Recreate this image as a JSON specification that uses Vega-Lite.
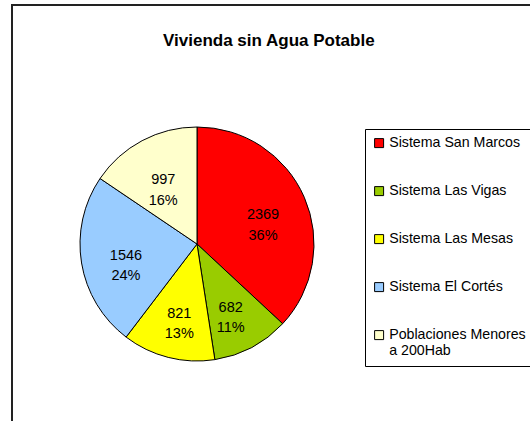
{
  "$schema": "https://vega.github.io/schema/vega-lite/v6.json",
  "autosize": {"type": "none"},
  "padding": {"left": 12, "top": 5, "right": 0, "bottom": 0},
  "width": 540,
  "height": 430,
  "background": "white",
  "view": {"stroke": "#222", "strokeWidth": 2},
  "title": {
    "text": "Vivienda sin Agua Potable",
    "font": "Liberation Sans",
    "fontSize": 17,
    "fontWeight": "bold",
    "color": "black",
    "anchor": "start",
    "baseline": "alphabetic",
    "offset": 0,
    "dx": 151,
    "dy": 58
  },
  "data": {
    "values": [
      {"orden": 1, "sistema": "Sistema San Marcos", "viviendas": 2369, "pct": "36%"},
      {"orden": 2, "sistema": "Sistema Las Vigas", "viviendas": 682, "pct": "11%"},
      {"orden": 3, "sistema": "Sistema Las Mesas", "viviendas": 821, "pct": "13%"},
      {"orden": 4, "sistema": "Sistema El Cortés", "viviendas": 1546, "pct": "24%"},
      {"orden": 5, "sistema": "Poblaciones Menores a 200Hab", "viviendas": 997, "pct": "16%"}
    ]
  },
  "transform": [
    {"calculate": "[format(datum.viviendas, 'd'), datum.pct]", "as": "etiqueta"}
  ],
  "encoding": {
    "theta": {"field": "viviendas", "type": "quantitative", "stack": true},
    "order": {"field": "orden", "type": "quantitative"}
  },
  "layer": [
    {
      "mark": {"type": "arc", "outerRadius": 117, "x": 185, "y": 239, "stroke": "black", "strokeWidth": 1},
      "encoding": {
        "color": {
          "field": "sistema",
          "type": "nominal",
          "scale": {
            "domain": ["Sistema San Marcos", "Sistema Las Vigas", "Sistema Las Mesas", "Sistema El Cortés", "Poblaciones Menores a 200Hab"],
            "range": ["#FF0000", "#99CC00", "#FFFF00", "#99CCFF", "#FFFFCC"]
          },
          "legend": {
            "title": null,
            "orient": "none",
            "legendX": 353,
            "legendY": 124,
            "direction": "vertical",
            "symbolType": "square",
            "symbolSize": 81,
            "symbolStrokeColor": "black",
            "symbolStrokeWidth": 1,
            "symbolOpacity": 1,
            "labelFont": "Liberation Sans",
            "labelFontSize": 14.2,
            "labelColor": "black",
            "labelLimit": 300,
            "labelOffset": 3,
            "labelExpr": "datum.label == 'Poblaciones Menores a 200Hab' ? ['Poblaciones Menores', 'a 200Hab'] : datum.label",
            "rowPadding": 33,
            "padding": 7,
            "strokeColor": "black",
            "fillColor": "white",
            "cornerRadius": 0
          }
        }
      }
    },
    {
      "mark": {"type": "text", "radius": 72, "x": 185, "y": 239, "font": "Liberation Sans", "fontSize": 14.5, "color": "black", "lineHeight": 20.5, "baseline": "middle"},
      "encoding": {
        "text": {"field": "etiqueta"}
      }
    }
  ],
  "config": {
    "legend": {"strokeWidth": 1}
  }
}
